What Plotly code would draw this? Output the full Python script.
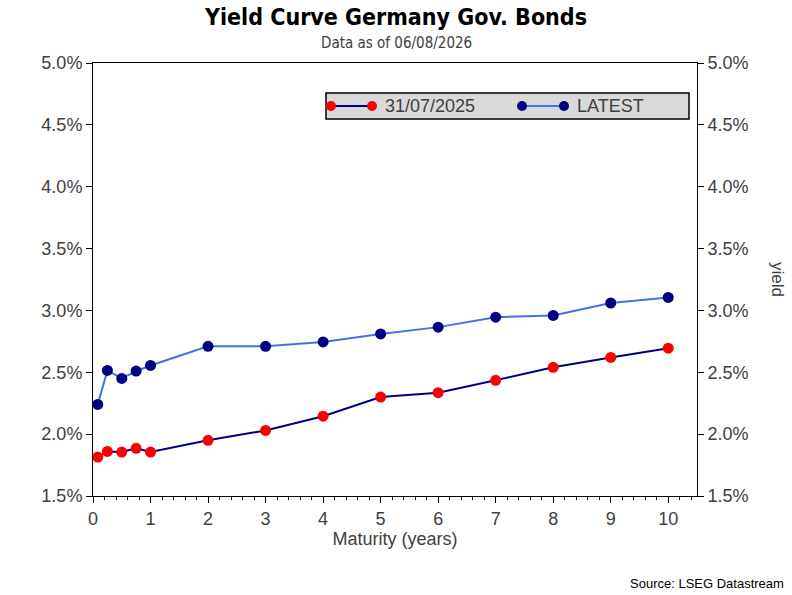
import plotly.graph_objects as go

maturity = [0.083, 0.25, 0.5, 0.75, 1, 2, 3, 4, 5, 6, 7, 8, 9, 10]
yield_prev = [1.815, 1.86, 1.855, 1.885, 1.855, 1.95, 2.03, 2.145, 2.30, 2.335, 2.435, 2.54, 2.62, 2.695]
yield_latest = [2.24, 2.515, 2.45, 2.51, 2.555, 2.71, 2.71, 2.745, 2.81, 2.865, 2.945, 2.96, 3.06, 3.105]
label_prev = "31/07/2025"
label_latest = "LATEST"

RED = "#ff0000"
NAVY = "#000080"
BLUE = "#4472e4"
TXT = "#404040"
W, H = 792, 595
L, R, T, B = 93, 95, 63, 99
NARROW = "DejaVu Sans Condensed, Liberation Sans Narrow, Arial"
SANS = "Liberation Sans, Arial"

fig = go.Figure()
fig.add_trace(go.Scatter(
    x=maturity, y=yield_prev, name=label_prev, mode="lines+markers",
    line=dict(color=NAVY, width=2), marker=dict(color=RED, size=11),
    showlegend=False,
))
fig.add_trace(go.Scatter(
    x=maturity, y=yield_latest, name=label_latest, mode="lines+markers",
    line=dict(color=BLUE, width=2), marker=dict(color=NAVY, size=11),
    showlegend=False, yaxis="y2",
))

yax = dict(
    range=[1.5, 5.0], dtick=0.5, tickformat=".1f", ticksuffix="%",
    showline=True, linecolor="black", linewidth=1, ticks="outside",
    ticklen=6, tickcolor="black", showgrid=False, zeroline=False,
    tickfont=dict(family=SANS, size=18, color=TXT),
)

fig.update_layout(
    width=W, height=H,
    margin=dict(l=L, r=R, t=T, b=B),
    paper_bgcolor="white", plot_bgcolor="white",
    xaxis=dict(
        range=[0, 10.5], dtick=1, showline=True, mirror=True,
        linecolor="black", linewidth=1, ticks="outside", ticklen=6,
        tickcolor="black", showgrid=False, zeroline=False,
        minor=dict(dtick=0.2, ticks="outside", ticklen=3, tickcolor="black"),
        tickfont=dict(family=SANS, size=18, color=TXT),
        title=dict(text="Maturity (years)", standoff=2,
                   font=dict(family=SANS, size=18, color=TXT)),
    ),
    yaxis=yax,
    yaxis2=dict(yax, overlaying="y", side="right"),
    title=dict(
        text="<b>Yield Curve Germany Gov. Bonds</b>",
        x=0.5, xanchor="center", y=1 - 17 / H, yanchor="middle",
        font=dict(family=NARROW, size=23, color="black"),
    ),
)


def px(xp):
    return (xp - L) / (W - L - R)


def py(yp):
    return 1 - (yp - T) / (H - T - B)


# subtitle, source, right axis title
fig.add_annotation(text="Data as of 06/08/2026", xref="paper", yref="paper",
                   x=px(396), y=py(43), showarrow=False, xanchor="center", yanchor="middle",
                   font=dict(family=NARROW, size=15, color=TXT))
fig.add_annotation(text="Source: LSEG Datastream", xref="paper", yref="paper",
                   x=px(786), y=py(583), showarrow=False, xanchor="right", yanchor="middle",
                   font=dict(family=SANS, size=13, color="black"))
fig.add_annotation(text="yield", xref="paper", yref="paper", textangle=90,
                   x=px(778), y=py(279), showarrow=False, xanchor="center", yanchor="middle",
                   font=dict(family=SANS, size=17, color=TXT))

# legend drawn by hand: box, line with a marker at each end, label
fig.add_shape(type="rect", xref="paper", yref="paper",
              x0=px(326), x1=px(689), y0=py(93), y1=py(119),
              fillcolor="#d9d9d9", line=dict(color="black", width=1.5), layer="above")
legend_items = [
    (331, 372, 384, NAVY, RED, label_prev),
    (522, 564, 576, BLUE, NAVY, label_latest),
]
ly = 106
for xa, xb, xt, lc, mc, lab in legend_items:
    fig.add_shape(type="line", xref="paper", yref="paper",
                  x0=px(xa), x1=px(xb), y0=py(ly), y1=py(ly),
                  line=dict(color=lc, width=2), layer="above")
    for xc in (xa, xb):
        fig.add_shape(type="circle", xref="paper", yref="paper",
                      x0=px(xc - 5), x1=px(xc + 5), y0=py(ly + 5), y1=py(ly - 5),
                      fillcolor=mc, line=dict(color=mc, width=0), layer="above")
    fig.add_annotation(text=lab, xref="paper", yref="paper", x=px(xt - 1), y=py(ly),
                       showarrow=False, xanchor="left", yanchor="middle",
                       font=dict(family=SANS, size=18, color=TXT))

fig.write_html("out.html", config={"displayModeBar": False},
               post_script="document.body.style.margin='0';")
